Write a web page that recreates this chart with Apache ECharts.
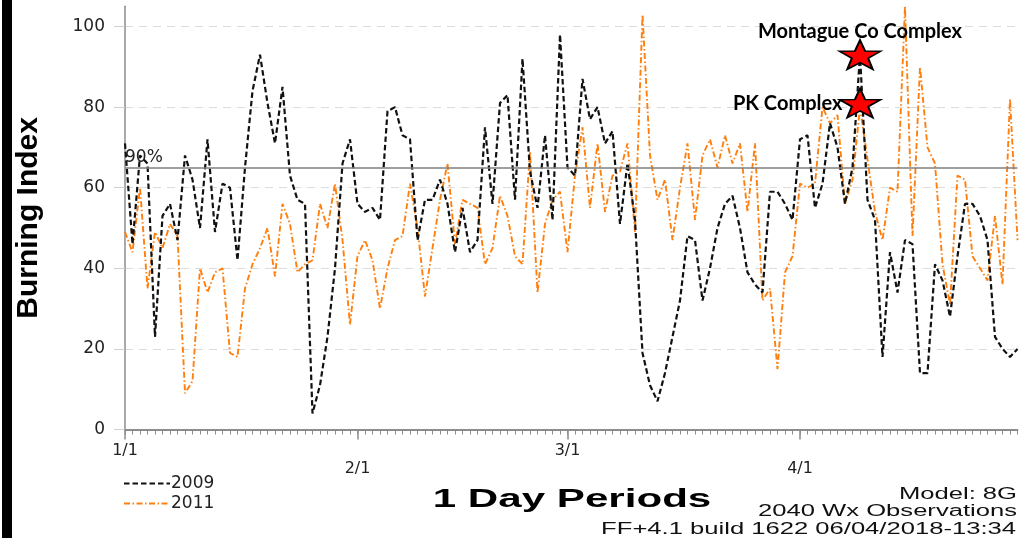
<!DOCTYPE html>
<html><head><meta charset="utf-8">
<script src="https://cdn.jsdelivr.net/npm/echarts@6/dist/echarts.min.js"></script>
<style>html,body{margin:0;padding:0;background:#fff}#c{width:1023px;height:538px}</style>
</head><body><div id="c"></div>
<script>
// ---- data ----
const months = [1, 2, 3, 4];
const monthDays = [31, 28, 31, 30];
const tickLabels = ['1/1', '2/1', '3/1', '4/1'];
const bi2009 = [71,46,68,66,23,53,56,47,68,62,50,72,49,61,60,42,65,84,93,81,71,85,63,57,56,4,11,23,40,66,
  72,56,54,55,52,79,80,73,72,47,57,57,62,56,44,55,44,47,75,56,81,83,57,92,64,55,73,52,98,65,
  63,87,77,80,71,74,51,66,52,19,11,7,14,23,32,48,47,32,40,50,56,58,50,39,36,34,59,59,56,52,
  72,73,55,61,76,70,56,65,93,57,52,18,44,34,47,46,14,14,41,37,28,43,56,56,53,47,23,20,18,20];
const bi2011 = [49,44,60,35,49,45,51,48,9,12,40,34,39,40,19,18,35,41,45,50,38,56,51,39,41,42,56,50,61,47,
  26,43,47,42,30,40,47,48,61,50,33,45,57,66,46,57,56,55,41,45,58,53,43,41,69,34,51,57,59,44,
  63,75,55,71,54,63,64,71,49,103,68,57,62,47,60,71,52,68,72,65,73,66,71,54,71,32,35,15,39,43,
  61,60,61,80,76,78,56,62,80,67,54,47,60,59,105,48,90,70,66,41,31,63,62,43,40,37,53,36,82,47];
const pct90 = 65;
const fireNames = ['Montague Co Complex', 'PK Complex'];
const fireDates = ['4/9', '4/9'];
const fireValues = [93, 81];
const yTickStep = 20;

// ---- categories ----
const cats = [];
const monthStarts = [];
months.forEach((m, k) => {
  monthStarts.push(cats.length);
  for (let d = 1; d <= monthDays[k]; d++) cats.push(m + '/' + d);
});

const chart = echarts.init(document.getElementById('c'));
const starPath = 'path://M0,-10L2.35,-3.24L9.51,-3.09L3.8,1.24L5.88,8.09L0,4L-5.88,8.09L-3.8,1.24L-9.51,-3.09L-2.35,-3.24Z';

const option = {
  animation: false,
  backgroundColor: '#fff',
  grid: { left: 125, right: 5.5, top: 6.35, bottom: 108.5, outerBoundsMode: 'none' },
  legend: {
    data: ['2009', '2011'], orient: 'vertical', left: 123, top: 475,
    itemWidth: 46, itemHeight: 14, itemGap: 3, padding: 0,
    itemStyle: { opacity: 0, color: 'transparent', borderWidth: 0 },
    textStyle: { fontFamily: 'DejaVu Sans', fontSize: 17, color: '#222', padding: [0, 0, 0, -4] }
  },
  xAxis: [{
    type: 'category', data: cats, boundaryGap: false,
    axisLine: { lineStyle: { color: '#8c8c8c', width: 2 } },
    axisTick: { interval: 0, length: 5, lineStyle: { color: '#8c8c8c', width: 1 } },
    axisLabel: {
      interval: (i) => monthStarts.includes(i),
      formatter: (v, i) => {
        const k = tickLabels.indexOf(v);
        return k % 2 === 1 ? '\n' + v : v;
      },
      margin: 12, color: '#222', fontFamily: 'DejaVu Sans', fontSize: 16, lineHeight: 18
    },
    splitLine: { show: false }
  }, {
    type: 'category', data: cats, boundaryGap: false, position: 'bottom',
    axisLine: { show: false },
    axisTick: { interval: (i) => monthStarts.includes(i), length: 10, lineStyle: { color: '#8c8c8c', width: 1.5 } },
    axisLabel: { show: false },
    splitLine: { show: false }
  }],
  yAxis: {
    type: 'value', min: 0, max: 105, interval: yTickStep,
    axisLine: { show: true, lineStyle: { color: '#8c8c8c', width: 1.5 } },
    axisTick: { show: true, length: 11, lineStyle: { color: '#d0d0d0' } },
    axisLabel: { showMaxLabel: false, margin: 20, color: '#222', fontFamily: 'DejaVu Sans', fontSize: 17 },
    splitLine: { show: true, showMaxLine: false, showMinLine: false, lineStyle: { color: '#dcdcdc', type: [8, 6], width: 1 } },
    name: 'Burning Index', nameLocation: 'middle', nameRotate: 90, nameGap: 81,
    nameTextStyle: { fontFamily: 'Liberation Sans', fontWeight: 'bold', fontSize: 30, color: '#000' }
  },
  series: [{
    name: '2011', type: 'line', data: bi2011, symbol: 'none', z: 2,
    lineStyle: { color: '#ff7f0e', width: 1.9, type: [6, 2.5, 1.5, 2.5] },
    itemStyle: { color: '#ff7f0e' }
  }, {
    name: '2009', type: 'line', data: bi2009, symbol: 'none', z: 3,
    lineStyle: { color: '#111', width: 2.2, type: [5.5, 3] },
    itemStyle: { color: '#111' },
    markLine: {
      silent: true, symbol: 'none', animation: false,
      data: [{ yAxis: pct90 }],
      lineStyle: { color: '#7f7f7f', type: 'solid', width: 1.5 },
      label: { position: 'insideStartTop', formatter: '90%', distance: [0, 1], color: '#222', fontFamily: 'DejaVu Sans', fontSize: 17 }
    }
  }, {
    type: 'scatter', z: 5,
    data: fireNames.map((n, i) => ({
      name: n, value: [fireDates[i], fireValues[i]],
      label: i === 0 ? { position: 'top', distance: -2 } : { position: 'left', distance: -4 }
    })),
    symbol: starPath, symbolSize: [41, 29],
    itemStyle: { color: '#ff0000', borderColor: '#000', borderWidth: 1.8, opacity: 1 },
    label: { show: true, formatter: '{b}', color: '#000', fontFamily: 'Lato', fontWeight: 'bold', fontSize: 20 }
  }],
  graphic: [
    { type: 'rect', shape: { x: 2, y: 0, width: 10, height: 538 }, style: { fill: '#000' } },
    { type: 'text', x: 572, y: 500, scaleX: 1.62,
      style: { text: '1 Day Periods', font: 'bold 26px "Liberation Sans"', fill: '#000', textAlign: 'center', textVerticalAlign: 'middle', align: 'center', verticalAlign: 'middle' } },
    { type: 'text', x: 1017, y: 494.5, scaleX: 1.6,
      style: { text: 'Model: 8G', font: '16px "Liberation Sans"', fill: '#111', textAlign: 'right', textVerticalAlign: 'middle', align: 'right', verticalAlign: 'middle' } },
    { type: 'text', x: 1017, y: 512, scaleX: 1.6,
      style: { text: '2040 Wx Observations', font: '16px "Liberation Sans"', fill: '#111', textAlign: 'right', textVerticalAlign: 'middle', align: 'right', verticalAlign: 'middle' } },
    { type: 'text', x: 1016, y: 529.5, scaleX: 1.6,
      style: { text: 'FF+4.1 build 1622 06/04/2018-13:34', font: '16px "Liberation Sans"', fill: '#111', textAlign: 'right', textVerticalAlign: 'middle', align: 'right', verticalAlign: 'middle' } }
  ]
};
chart.setOption(option);
</script></body></html>
